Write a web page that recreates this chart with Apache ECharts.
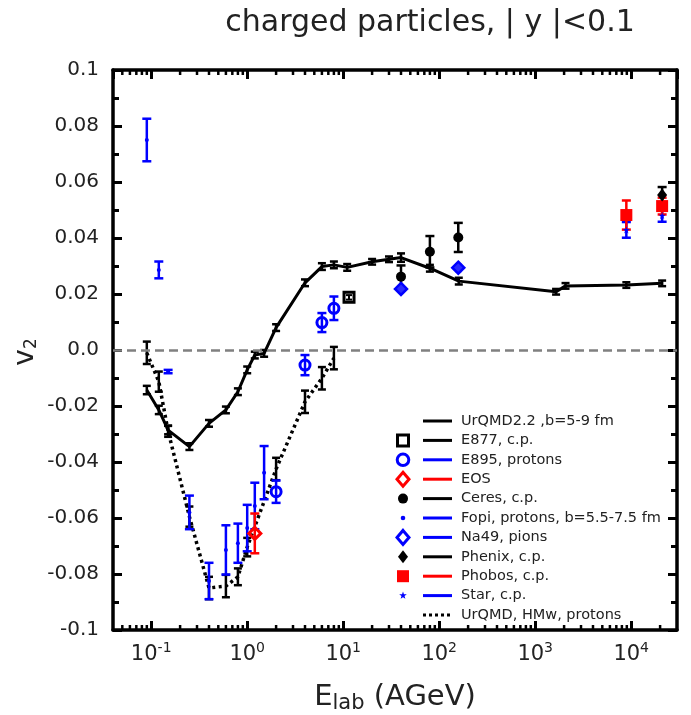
<!DOCTYPE html>
<html><head><meta charset="utf-8">
<script src="https://cdn.jsdelivr.net/npm/echarts/dist/echarts.min.js"></script>
<style>html,body{margin:0;padding:0;background:#fff}#c{width:691px;height:715px}</style>
</head><body><div id="c"></div>
<script>
const F = 'DejaVu Sans';
const TXT = '#222';
const BLUE = '#0000ff', RED = '#ff0000', BLACK = '#000000';

// ---------- data ----------
const urqmdE   = [0.09, 0.12, 0.15, 0.25, 0.4, 0.6, 0.8, 1.0, 1.2, 1.5, 2.0, 4.0, 6.0, 8.0, 11, 20, 30, 40, 80, 160, 1650, 2070, 8900, 21000];
const urqmdV2  = [-0.0143, -0.0214, -0.0286, -0.0345, -0.0262, -0.0214, -0.0149, -0.0071, -0.0018, -0.0012, 0.0080, 0.0240, 0.0298, 0.0304, 0.0295, 0.0315, 0.0324, 0.0330, 0.0292, 0.0246, 0.0208, 0.0229, 0.0232, 0.0238];
const urqmdErr = [0.0015, 0.0015, 0.0015, 0.0012, 0.0012, 0.0012, 0.0012, 0.0012, 0.0012, 0.0012, 0.0012, 0.0012, 0.0012, 0.0012, 0.0012, 0.0010, 0.0010, 0.0015, 0.0012, 0.0012, 0.0010, 0.0010, 0.0010, 0.0010];

const hmwE   = [0.09, 0.12, 0.15, 0.25, 0.4, 0.6, 0.8, 1.0, 2.0, 4.0, 6.0, 8.0];
const hmwV2  = [-0.0010, -0.0113, -0.0290, -0.0595, -0.0850, -0.0843, -0.0810, -0.0704, -0.0425, -0.0185, -0.0101, -0.0029];
const hmwErr = [0.0040, 0.0036, 0.0020, 0.0036, 0.0040, 0.0040, 0.0030, 0.0033, 0.0040, 0.0040, 0.0040, 0.0040];

const fopiE   = [0.09, 0.12, 0.15, 0.25, 0.4, 0.6, 0.8, 1.0, 1.2, 1.5];
const fopiV2  = [0.0750, 0.0286, -0.0077, -0.0580, -0.0825, -0.0714, -0.0690, -0.0636, -0.0557, -0.0438];
const fopiErr = [0.0076, 0.0030, 0.0006, 0.0060, 0.0065, 0.0088, 0.0070, 0.0083, 0.0083, 0.0095];

const e895E = [2.0, 4.0, 6.0, 8.0];
const e895V2 = [-0.0506, -0.0054, 0.0098, 0.0149];
const e895Err = [0.0040, 0.0036, 0.0034, 0.0042];

const e877E = [11.5];
const e877V2 = [0.0188];
const e877Err = [0.0008];

const eosE = [1.2];
const eosV2 = [-0.0655];
const eosErr = [0.0071];

const ceresE = [40, 80, 158];
const ceresV2 = [0.0262, 0.0351, 0.0402];
const ceresErr = [0.0040, 0.0056, 0.0052];

const na49E = [40, 158];
const na49V2 = [0.0218, 0.0294];
const na49Err = [0.0008, 0.0012];

const phenixE = [21000];
const phenixV2 = [0.0554];
const phenixErr = [0.0028];

const phobosE = [8900, 21000];
const phobosV2 = [0.0482, 0.0514];
const phobosErr = [0.0052, 0.0030];

const starE = [8900, 21000];
const starV2 = [0.0429, 0.0480];
const starErr = [0.0028, 0.0022];

const legendNames = ['UrQMD2.2 ,b=5-9 fm', 'E877, c.p.', 'E895, protons', 'EOS', 'Ceres, c.p.', 'Fopi, protons, b=5.5-7.5 fm', 'Na49, pions', 'Phenix, c.p.', 'Phobos, c.p.', 'Star, c.p.', 'UrQMD, HMw, protons'];
const legendLineColors = [BLACK, BLACK, BLUE, RED, BLACK, BLUE, BLUE, BLACK, RED, BLUE, BLACK];
const legendSymbols = ['none', 'squareHollow', 'circleHollow', 'diamondHollow', 'circle', 'dot', 'diamondHollow', 'diamond', 'square', 'star', 'none'];
const legendSymColors = [BLACK, BLACK, BLUE, RED, BLACK, BLUE, BLUE, BLACK, RED, BLUE, BLACK];
const legendDotted = [false, false, false, false, false, false, false, false, false, false, true];

const xMin = 0.04, xMax = 30000;
const yMin = -0.1, yMax = 0.1, yStep = 0.02;

// ---------- helpers ----------
const pairs = (xs, ys) => xs.map((x, i) => [x, ys[i]]);
const STAR = 'path://M50,0 L61,35 L98,35 L68,57 L79,91 L50,70 L21,91 L32,57 L2,35 L39,35 Z';

function errSeries(name, xs, ys, es, color, capW, lw, z) {
  return {
    type: 'custom', name: name + ' err', silent: true, z: z || 3,
    data: xs.map((x, i) => [x, ys[i], es[i]]),
    encode: { x: 0, y: 1 },
    renderItem(params, api) {
      const x = api.value(0), y = api.value(1), e = api.value(2);
      const a = api.coord([x, y + e]), b = api.coord([x, y - e]);
      const h = capW / 2;
      const st = { stroke: color, lineWidth: lw };
      return { type: 'group', children: [
        { type: 'line', shape: { x1: a[0], y1: a[1], x2: b[0], y2: b[1] }, style: st },
        { type: 'line', shape: { x1: a[0] - h, y1: a[1], x2: a[0] + h, y2: a[1] }, style: st },
        { type: 'line', shape: { x1: b[0] - h, y1: b[1], x2: b[0] + h, y2: b[1] }, style: st }
      ]};
    }
  };
}
function scatter(name, xs, ys, symbol, size, fill, border, bw) {
  return {
    type: 'scatter', name, z: 5, silent: true,
    data: pairs(xs, ys), symbol, symbolSize: size,
    itemStyle: { color: fill, borderColor: border, borderWidth: bw || 0, opacity: 1 }
  };
}

// minor ticks on log axis (2..9 x 10^k)
const xMinorVals = [];
for (let k = -2; k <= 4; k++) for (let m = 2; m <= 9; m++) {
  const v = m * Math.pow(10, k);
  if (v > xMin * 1.001 && v < xMax * 0.999) xMinorVals.push(v);
}

const xLabelFmt = v => {
  const e = Math.round(Math.log10(v));
  return '{b|10}{s|' + e + '}';
};
const xRich = {
  b: { fontSize: 21, fontFamily: F, color: TXT },
  s: { fontSize: 14, fontFamily: F, color: TXT, padding: [0, 0, 13, 0] }
};
const yLabelFmt = v => {
  const r = Math.round(v * 100) / 100;
  if (Math.abs(r) < 1e-9) return '0.0';
  if (Math.abs(Math.abs(r) - 0.1) < 1e-9) return r > 0 ? '0.1' : '-0.1';
  return r.toFixed(2);
};

const axisLine = { show: true, onZero: false, lineStyle: { color: BLACK, width: 3.5 } };

// ---------- legend graphic ----------
const LX_SYM = 403, LX_L1 = 423, LX_L2 = 452, LX_TXT = 461, LY0 = 421, LDY = 19.4;
function legendSym(kind, c, cx, cy) {
  switch (kind) {
    case 'squareHollow': return { type: 'rect', shape: { x: cx - 5.5, y: cy - 5.5, width: 11, height: 11 }, style: { fill: null, stroke: c, lineWidth: 3 } };
    case 'square': return { type: 'rect', shape: { x: cx - 6, y: cy - 6, width: 12, height: 12 }, style: { fill: c } };
    case 'circleHollow': return { type: 'circle', shape: { cx, cy, r: 5.8 }, style: { fill: null, stroke: c, lineWidth: 3 } };
    case 'circle': return { type: 'circle', shape: { cx, cy, r: 5 }, style: { fill: c } };
    case 'dot': return { type: 'circle', shape: { cx, cy, r: 2.3 }, style: { fill: c } };
    case 'diamondHollow': return { type: 'polygon', shape: { points: [[cx, cy - 7], [cx + 6, cy], [cx, cy + 7], [cx - 6, cy]] }, style: { fill: null, stroke: c, lineWidth: 3 } };
    case 'diamond': return { type: 'polygon', shape: { points: [[cx, cy - 6.5], [cx + 5, cy], [cx, cy + 6.5], [cx - 5, cy]] }, style: { fill: c } };
    case 'star': {
      const pts = [];
      for (let i = 0; i < 10; i++) {
        const r = i % 2 ? 1.6 : 4;
        const a = -Math.PI / 2 + i * Math.PI / 5;
        pts.push([cx + r * Math.cos(a), cy + r * Math.sin(a)]);
      }
      return { type: 'polygon', shape: { points: pts }, style: { fill: c } };
    }
  }
  return null;
}
const legendEls = [];
legendNames.forEach((name, i) => {
  const cy = LY0 + i * LDY;
  const s = legendSym(legendSymbols[i], legendSymColors[i], LX_SYM, cy);
  if (s) legendEls.push(s);
  legendEls.push({ type: 'line', shape: { x1: LX_L1, y1: cy, x2: LX_L2, y2: cy },
    style: { stroke: legendLineColors[i], lineWidth: 3, lineDash: legendDotted[i] ? [3, 3] : null } });
  legendEls.push({ type: 'text', x: LX_TXT, y: cy, style: { text: name, font: '14.5px "' + F + '"', fill: TXT, align: 'left', verticalAlign: 'middle' } });
});

const option = {
  animation: false,
  backgroundColor: '#fff',
  grid: { left: 113, right: 14, top: 70, bottom: 85, containLabel: false, outerBoundsMode: 'none' },
  xAxis: [
    { type: 'log', logBase: 10, min: xMin, max: xMax, position: 'bottom', axisLine,
      axisTick: { show: true, inside: true, length: 9, lineStyle: { color: BLACK, width: 3 } },
      axisLabel: { show: true, formatter: xLabelFmt, rich: xRich, showMinLabel: false, showMaxLabel: false, margin: 11 },
      splitLine: { show: false }, minorTick: { show: false } },
    { type: 'log', logBase: 10, min: xMin, max: xMax, position: 'top', axisLine,
      axisTick: { show: true, inside: true, length: 9, lineStyle: { color: BLACK, width: 3 } },
      axisLabel: { show: false }, splitLine: { show: false } }
  ],
  yAxis: [
    { type: 'value', min: yMin, max: yMax, interval: yStep, position: 'left', axisLine,
      axisTick: { show: true, inside: true, length: 9, lineStyle: { color: BLACK, width: 3 } },
      minorTick: { show: true, splitNumber: 2, length: 6, lineStyle: { color: BLACK, width: 3 } },
      axisLabel: { formatter: yLabelFmt, fontSize: 20, fontFamily: F, color: TXT, margin: 14 },
      splitLine: { show: false } },
    { type: 'value', min: yMin, max: yMax, interval: yStep, position: 'right', axisLine,
      axisTick: { show: true, inside: true, length: 9, lineStyle: { color: BLACK, width: 3 } },
      minorTick: { show: true, splitNumber: 2, length: 6, lineStyle: { color: BLACK, width: 3 } },
      axisLabel: { show: false }, splitLine: { show: false } }
  ],
  graphic: [
    { type: 'text', x: 430, y: 23, style: { text: 'charged particles, | y |<0.1', font: '30px "' + F + '"', fill: TXT, align: 'center', verticalAlign: 'middle' } },
    { type: 'text', x: 395, y: 697, style: { text: '{e|E}{l|lab}{p| (AGeV)}', align: 'center', verticalAlign: 'middle',
        rich: { e: { fontSize: 29, fontFamily: F, fill: TXT }, l: { fontSize: 21, fontFamily: F, fill: TXT, padding: [14, 0, 0, 0] }, p: { fontSize: 29, fontFamily: F, fill: TXT } } } },
    { type: 'text', x: 26, y: 352, rotation: Math.PI / 2, style: { text: '{v|v}{s|2}', align: 'center', verticalAlign: 'middle',
        rich: { v: { fontSize: 28, fontFamily: F, fill: TXT }, s: { fontSize: 17, fontFamily: F, fill: TXT, padding: [12, 0, 0, 0] } } } },
    { type: 'group', children: legendEls }
  ],
  series: [
    { type: 'custom', name: 'x minor ticks', silent: true, z: 10, clip: false,
      data: xMinorVals.map(v => [v, 0]), encode: { x: 0, y: 1 },
      renderItem(params, api) {
        const v = api.value(0);
        const b = api.coord([v, yMin]), t = api.coord([v, yMax]);
        const st = { stroke: BLACK, lineWidth: 2.5 };
        return { type: 'group', children: [
          { type: 'line', shape: { x1: b[0], y1: b[1], x2: b[0], y2: b[1] - 5 }, style: st },
          { type: 'line', shape: { x1: t[0], y1: t[1], x2: t[0], y2: t[1] + 5 }, style: st }
        ]};
      } },
    { type: 'line', name: 'UrQMD, HMw, protons', data: pairs(hmwE, hmwV2), symbol: 'none', z: 2, silent: true,
      lineStyle: { color: BLACK, width: 3.5, type: [3, 3.5], cap: 'butt' } },
    { type: 'line', name: 'UrQMD2.2 ,b=5-9 fm', data: pairs(urqmdE, urqmdV2), symbol: 'none', z: 2, silent: true,
      lineStyle: { color: BLACK, width: 3 },
      markLine: { silent: true, symbol: 'none', label: { show: false }, data: [{ yAxis: 0 }],
        lineStyle: { color: '#808080', type: [9, 5], width: 2.5 } } },
    errSeries('hmw', hmwE, hmwV2, hmwErr, BLACK, 8, 2.5),
    errSeries('urqmd', urqmdE, urqmdV2, urqmdErr, BLACK, 8, 2.5),
    errSeries('fopi', fopiE, fopiV2, fopiErr, BLUE, 9, 2.5),
    errSeries('e895', e895E, e895V2, e895Err, BLUE, 9, 2.5),
    errSeries('e877', e877E, e877V2, e877Err, BLACK, 6, 2),
    errSeries('eos', eosE, eosV2, eosErr, RED, 9, 2.5),
    errSeries('ceres', ceresE, ceresV2, ceresErr, BLACK, 9, 2.5),
    errSeries('na49', na49E, na49V2, na49Err, BLUE, 6, 2.5),
    errSeries('star', starE, starV2, starErr, BLUE, 9, 2.5),
    errSeries('phobos', phobosE, phobosV2, phobosErr, RED, 9, 2.5),
    errSeries('phenix', phenixE, phenixV2, phenixErr, BLACK, 9, 2.5),
    scatter('Fopi, protons, b=5.5-7.5 fm', fopiE, fopiV2, 'circle', 4, BLUE, BLUE, 0),
    scatter('E895, protons', e895E, e895V2, 'circle', 10, 'rgba(0,0,0,0)', BLUE, 3),
    scatter('E877, c.p.', e877E, e877V2, 'rect', 10, 'rgba(0,0,0,0)', BLACK, 3),
    scatter('EOS', eosE, eosV2, 'diamond', 12, 'rgba(0,0,0,0)', RED, 3),
    scatter('Ceres, c.p.', ceresE, ceresV2, 'circle', 10, BLACK, BLACK, 0),
    scatter('Na49, pions', na49E, na49V2, 'diamond', 12, '#2a2aff', BLUE, 2.5),
    scatter('Star, c.p.', starE, starV2, STAR, 7, BLUE, BLUE, 0),
    scatter('Phobos, c.p.', phobosE, phobosV2, 'rect', 12, RED, RED, 0),
    scatter('Phenix, c.p.', phenixE, phenixV2, 'diamond', [10, 13], BLACK, BLACK, 0)
  ]
};
const chart = echarts.init(document.getElementById('c'), null, { renderer: 'canvas' });
chart.setOption(option);
</script>
</body></html>
